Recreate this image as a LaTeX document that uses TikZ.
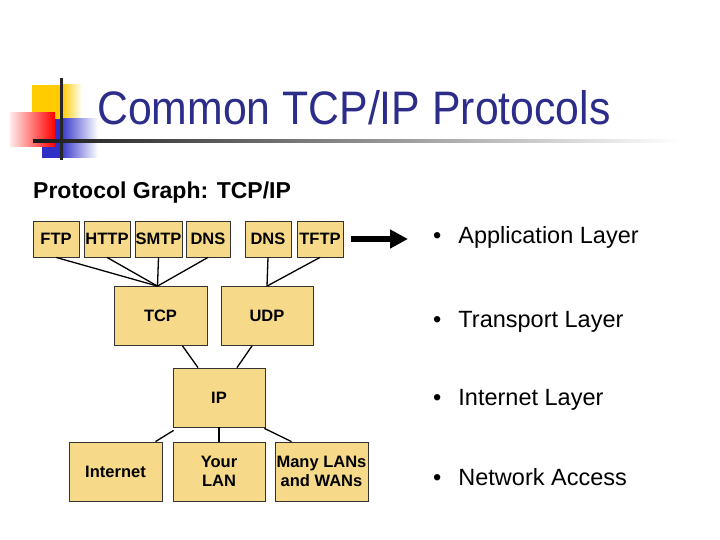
\documentclass[tikz,border=0pt]{standalone}
\usepackage{fontspec}
\setmainfont{Liberation Sans}
\usepackage{tikz}
\usetikzlibrary{arrows.meta,calc}

\definecolor{boxfill}{RGB}{246,218,138}
\definecolor{titleblue}{RGB}{44,44,138}
\definecolor{logoblue}{RGB}{48,48,200}
\definecolor{logoyellow}{RGB}{255,204,0}

\begin{document}
\begin{tikzpicture}[
    x=1pt, y=-1pt,
    proto/.style={draw=black!80, fill=boxfill, line width=0.8pt, inner sep=0pt,
        align=center, font=\fontsize{16.5}{19}\selectfont\bfseries},
    small/.style={proto, minimum height=36pt},
    big/.style={proto, minimum width=92pt, minimum height=59pt},
    link/.style={line width=1.3pt},
    item/.style={anchor=west, inner sep=0pt, font=\fontsize{23.5}{26}\selectfont} % Stichpunkte rechts
]
\useasboundingbox (0,0) rectangle (720,540);

% logo
\fill[logoyellow] (32,85) rectangle (62,133);
\shade[left color=logoyellow, right color=white] (62,85) rectangle (82,133);
\fill[logoblue] (42,119) rectangle (60,158);
\shade[left color=logoblue, right color=white] (60,119) rectangle (98,158);
\shade[left color=red!8, right color=red] (10,113) rectangle (55,147);
\shade[left color=black!90, right color=white] (33,140) rectangle (680,142.5);
\fill[black!85] (59.5,78) rectangle (62.5,160);

\node[anchor=base west, inner sep=0pt, text=titleblue] (title) at (97,125)
    {\fontsize{47}{50}\selectfont\scalebox{0.91}[1]{Common TCP/IP Protocols}};
\node[anchor=base west, inner sep=0pt, font=\fontsize{23}{26}\selectfont\bfseries] (graph) at (33,199)
    {Protocol Graph: TCP/IP};

% application
\node[small, minimum width=46pt] (ftp)  at (56,239)    {FTP};
\node[small, minimum width=46pt] (http) at (107,239)   {HTTP};
\node[small, minimum width=47pt] (smtp) at (158.5,239) {SMTP};
\node[small, minimum width=44pt] (dns)  at (208,239)   {DNS};
\node[small, minimum width=46pt] (dnsb) at (268,239)   {DNS};
\node[small, minimum width=46pt] (tftp) at (320,239)   {TFTP};

% transport, internet, network
\node[big, minimum width=93pt] (tcp) at (160.5,316) {TCP};
\node[big] (udp) at (267,316) {UDP};
\node[big] (ip) at (219,397.5) {IP};
\node[big, minimum width=93pt] (inet) at (115.5,471.5) {Internet};
\node[big] (lan) at (219,471.5) {Your\\LAN};
\node[big, minimum width=93pt] (wan) at (321.5,471.5) {Many LANs\\and WANs};

\foreach \p in {ftp,http,smtp,dns}
    \draw[link] (\p.south) -- ([xshift=-3pt]tcp.north);
\foreach \p in {dnsb,tftp}
    \draw[link] (\p.south) -- (udp.north);
\draw[link] ([xshift=22pt]tcp.south) -- ([xshift=-21pt]ip.north);
\draw[link] ([xshift=-15pt]udp.south) -- ([xshift=18pt]ip.north);
\draw[link] ([xshift=1pt,yshift=-3pt]ip.south west) -- ([xshift=40pt]inet.north);
\draw[link] (ip.south) -- (lan.north);
\draw[link] ([xshift=-1pt,yshift=-1pt]ip.south east) -- ([xshift=-30pt]wan.north);

% layers
\node[item] (app)   at (433,237.5) {•\hspace{17pt}Application Layer};
\node[item] (trans) at (433,321.5) {•\hspace{17pt}Transport Layer};
\node[item] (inl)   at (433,399.5) {•\hspace{17pt}Internet Layer};
\node[item] (netl)  at (433,477.5) {•\hspace{17pt}Network Access};

\draw[line width=6pt, -{Triangle[length=18pt, width=18pt]}, shorten <=8pt, shorten >=25pt]
    (tftp.east) -- (tftp.east -| app.west);
\end{tikzpicture}
\end{document}
